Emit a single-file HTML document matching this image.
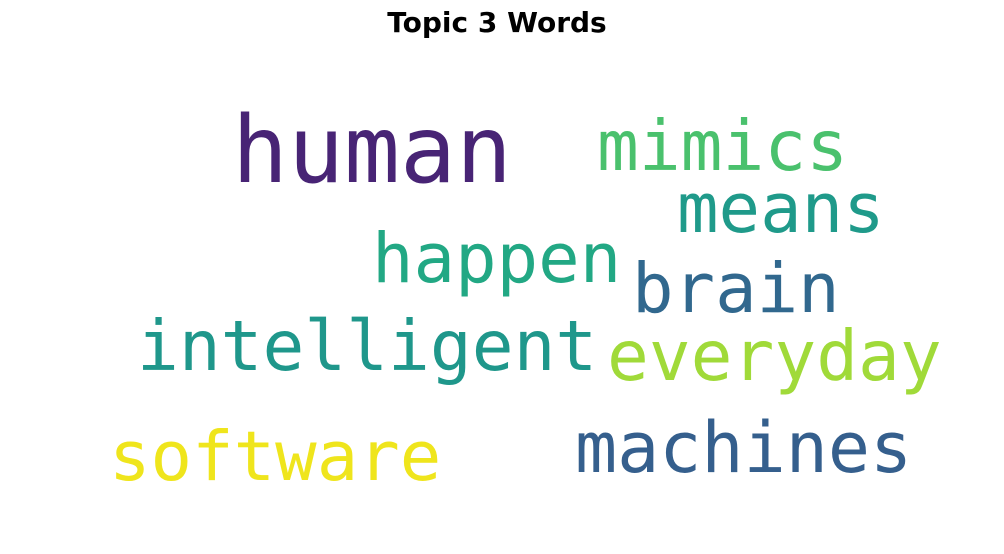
<!DOCTYPE html>
<html><head><meta charset="utf-8"><style>
body{margin:0;background:#fff;width:1004px;height:549px;overflow:hidden}
svg text.w{font-family:"DejaVu Sans Mono","Liberation Mono",monospace}
</style></head><body>
<svg width="1004" height="549">
<text x="497" y="32" text-anchor="middle" font-family="DejaVu Sans, Liberation Sans, sans-serif" font-weight="bold" font-size="28" fill="#000">Topic 3 Words</text>
<g id="words"></g>
</svg>
<script>
const words=["human","mimics","means","happen","brain","intelligent","everyday","software","machines"];
const sizes=[93,69.5,69,69,69,69.5,69.5,69,70];
const colors=["#482475","#4ac16d","#1f9a8a","#22a884","#31688e","#1f978b","#a0da39","#efe51c","#355f8d"];
const xs=[232,597,677,372,632,137,607,109,575];
const ys=[182,170,232,282,312,370,380,480,472];
const g=document.getElementById('words');
words.forEach((w,i)=>{
 const t=document.createElementNS('http://www.w3.org/2000/svg','text');
 t.setAttribute('class','w');
 t.setAttribute('x',xs[i]);t.setAttribute('y',ys[i]);
 t.setAttribute('font-size',sizes[i]);t.setAttribute('fill',colors[i]);
 t.textContent=w;
 
 
 g.appendChild(t);
});
</script>
</body></html>
